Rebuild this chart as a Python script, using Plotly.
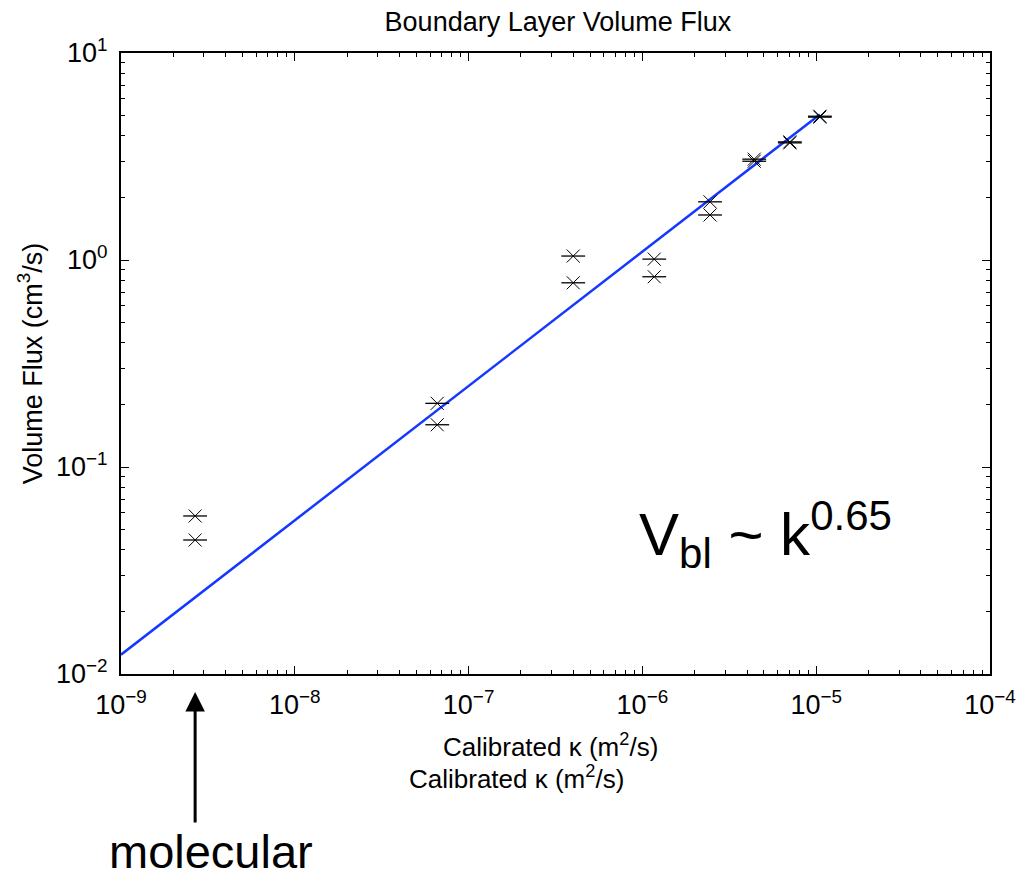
import plotly.graph_objects as go
import numpy as np

# Data
kappa = [2.67e-9, 2.67e-9, 6.6e-8, 6.6e-8, 4.0e-7, 4.0e-7, 1.17e-6, 1.17e-6,
         2.45e-6, 2.45e-6, 4.4e-6, 4.4e-6, 7.05e-6, 7.05e-6, 1.05e-5, 1.05e-5]
flux = [0.058, 0.0444, 0.203, 0.160, 1.045, 0.776, 1.01, 0.83,
        1.91, 1.65, 3.07, 3.0, 3.72, 3.68, 4.95, 4.90]

fit_x = [1e-9, 1.05e-5]
fit_y = [0.0124, 5.05]

x_decades = [-9, -8, -7, -6, -5, -4]
y_decades = [-2, -1, 0, 1]

def sup_label(e):
    s = str(e).replace("-", "\u2212")
    return "10<sup>" + s + "</sup>"

x_tickvals = [10.0 ** e for e in x_decades]
x_ticktext = [sup_label(e) for e in x_decades]
y_tickvals = [10.0 ** e for e in y_decades]
y_ticktext = [sup_label(e) for e in y_decades]

x_minor = [m * 10.0 ** e for e in x_decades[:-1] for m in range(2, 10)]
y_minor = [m * 10.0 ** e for e in y_decades[:-1] for m in range(2, 10)]

FONT = "Liberation Sans, Arial, Helvetica, sans-serif"

fig = go.Figure()
fig.add_trace(go.Scatter(x=fit_x, y=fit_y, mode="lines",
                         line=dict(color="#1438ff", width=2.5), showlegend=False))
fig.add_trace(go.Scatter(x=kappa, y=flux, mode="markers",
                         marker=dict(symbol="x-thin-open", size=13, color="black",
                                     line=dict(color="black", width=1)),
                         showlegend=False))
fig.add_trace(go.Scatter(x=kappa, y=flux, mode="markers",
                         marker=dict(symbol="line-ew-open", size=17, color="black",
                                     line=dict(color="black", width=1.3)),
                         showlegend=False))

axis_common = dict(
    type="log", showgrid=False, zeroline=False,
    showline=True, linecolor="black", linewidth=2, mirror="ticks",
    ticks="inside", ticklen=8, tickwidth=1, tickcolor="black",
    tickfont=dict(family=FONT, size=27, color="black"),
    tickmode="array",
)

fig.update_xaxes(**axis_common, range=[-9, -4],
                 tickvals=x_tickvals, ticktext=x_ticktext, ticklabelstandoff=6,
                 minor=dict(tickmode="array", tickvals=x_minor, ticks="inside",
                            ticklen=4, tickwidth=1, tickcolor="black"))
fig.update_yaxes(**axis_common, range=[-2, 1],
                 tickvals=y_tickvals, ticktext=y_ticktext, ticklabelstandoff=6,
                 minor=dict(tickmode="array", tickvals=y_minor, ticks="inside",
                            ticklen=4, tickwidth=1, tickcolor="black"),
                 title=dict(text="Volume Flux (cm<sup>3</sup>/s)",
                            font=dict(family=FONT, size=27, color="black"),
                            standoff=6))

fig.update_layout(
    width=1030, height=880,
    margin=dict(l=121, r=40, t=53, b=206),
    plot_bgcolor="white", paper_bgcolor="white",
    title=dict(text="Boundary Layer Volume Flux", x=0.5417, xanchor="center",
               y=0.975, yanchor="middle",
               font=dict(family=FONT, size=27, color="black")),
    font=dict(family=FONT, color="black"),
)

fig.add_annotation(text="Calibrated \u03ba (m<sup>2</sup>/s)", xref="paper", yref="paper",
                   x=0.494, y=-0.115, xanchor="center", yanchor="middle",
                   showarrow=False, font=dict(family=FONT, size=26, color="black"))
fig.add_annotation(text="Calibrated \u03ba (m<sup>2</sup>/s)", xref="paper", yref="paper",
                   x=0.455, y=-0.166, xanchor="center", yanchor="middle",
                   showarrow=False, font=dict(family=FONT, size=26, color="black"))
fig.add_annotation(text="V<sub>bl</sub> ~ k<sup>0.65</sup>", xref="paper", yref="paper",
                   x=0.594, y=0.225, xanchor="left", yanchor="middle",
                   showarrow=False, font=dict(family=FONT, size=60, color="black"))
fig.add_annotation(text="molecular", xref="paper", yref="paper",
                   x=-0.016, y=-0.331, xanchor="left", yanchor="bottom",
                   showarrow=False, font=dict(family=FONT, size=47, color="black"))
# arrow
fig.add_annotation(text="", xref="x", yref="paper", x=np.log10(2.67e-9), y=-0.029,
                   ax=0, ay=132, axref="pixel", ayref="pixel",
                   showarrow=True, arrowhead=2, arrowsize=1.3, arrowwidth=3,
                   arrowcolor="black")

fig.write_html("out.html")
